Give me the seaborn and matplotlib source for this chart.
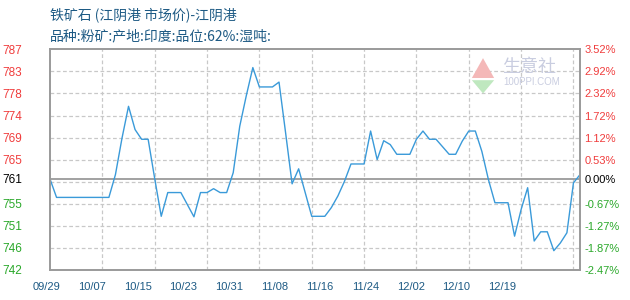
import numpy as np
import pandas as pd
import matplotlib
matplotlib.use("Agg")
import matplotlib.pyplot as plt
import matplotlib.transforms as mtransforms
import seaborn as sns

# ---------------- data ----------------
dates = ["09/29", "09/30", "10/08", "10/09", "10/10", "10/11", "10/12", "10/13",
         "10/14", "10/15", "10/16", "10/17", "10/19", "10/21", "10/22", "10/23",
         "10/24", "10/25", "10/26", "10/27", "10/28", "10/29", "10/30", "10/31",
         "11/02", "11/03", "11/04", "11/05", "11/06", "11/08", "11/10", "11/11",
         "11/12", "11/13", "11/14", "11/16", "11/17", "11/18", "11/19", "11/20",
         "11/21", "11/23", "11/24", "11/25", "11/26", "11/27", "11/29", "11/30",
         "12/01", "12/02", "12/03", "12/04", "12/05", "12/06", "12/08", "12/09",
         "12/10", "12/11", "12/12", "12/13", "12/14", "12/15", "12/16", "12/17",
         "12/18", "12/19"]
prices = [760.5, 756.7, 756.7, 761.4, 768.9, 775.5, 770.7, 768.7,
          768.7, 760.6, 752.8, 757.7, 757.7, 752.7, 757.7, 757.7,
          758.5, 757.7, 757.7, 761.8, 771.4, 777.7, 783.5, 779.5,
          779.5, 780.5, 770.1, 759.5, 762.6, 752.8, 752.8, 754.6,
          757.0, 760.0, 763.6, 763.6, 770.4, 764.5, 768.4, 767.6,
          765.6, 765.6, 768.7, 770.4, 768.7, 768.7, 765.6, 765.6,
          768.3, 770.4, 770.4, 766.2, 760.4, 755.6, 755.6, 748.7,
          754.2, 758.7, 747.7, 749.6, 749.6, 745.7, 747.3, 749.4,
          759.7, 761.4]

left_labels = ["787", "783", "778", "774", "769", "765", "761",
               "755", "751", "746", "742"]
right_labels = ["3.52%", "2.92%", "2.32%", "1.72%", "1.12%", "0.53%", "0.00%",
                "-0.67%", "-1.27%", "-1.87%", "-2.47%"]
x_labels = ["09/29", "10/07", "10/15", "10/23", "10/31", "11/08", "11/16",
            "11/24", "12/02", "12/10", "12/19"]

title1 = "铁矿石 (江阴港 市场价)-江阴港"
title2 = "品种:粉矿:产地:印度:品位:62%:湿吨:"

# ---------------- styling ----------------
sns.set_theme(style="white")
plt.rcParams["font.family"] = ["Liberation Sans", "DejaVu Sans"]

LINE = "#3a9ad9"
RED = "#f03c3c"
GREEN = "#2aa82a"
BLUE_TXT = "#1d5a84"
SPINE = "#9a9a9a"
GRID = "#c8c8c8"

df = pd.DataFrame({"date": pd.to_datetime(["2023/" + d for d in dates]),
                   "price": prices})

fig = plt.figure(figsize=(6.3, 3.0), dpi=100)
ax = fig.add_axes([50 / 630, 30 / 300, 530 / 630, 220.7 / 300])

sns.lineplot(data=df, x="date", y="price", ax=ax, color=LINE, linewidth=1.0)

base = prices[0]
top_pct = float(right_labels[0].rstrip("%"))
bot_pct = float(right_labels[-1].rstrip("%"))
ymax = base * (1 + top_pct / 100)
ymin = base * (1 + bot_pct / 100)
ax.set_ylim(ymin, ymax)
ax.set_xlim(df["date"].iloc[0], df["date"].iloc[-1])

# horizontal dashed grid
grid_y = np.linspace(ymax, ymin, 11)
for gy in grid_y[1:-1]:
    ax.axhline(gy, color=GRID, lw=0.9, ls=(0, (3, 2)), zorder=0)
# vertical dashed grid every 8 days
vgrid = pd.date_range(df["date"].iloc[0], periods=11, freq="8D")
for gx in vgrid[1:]:
    ax.axvline(gx, color=GRID, lw=0.9, ls=(0, (3, 2)), zorder=0)
# base line
ax.axhline(base, color=SPINE, lw=1.3, zorder=1)

# y ticks
tick_pos = list(grid_y[:6]) + [base] + list(grid_y[7:])
ax.set_yticks(tick_pos)
ax.set_yticklabels(left_labels)
ax.tick_params(axis="y", length=0, pad=20, labelsize=8.5)
for lab, txt in zip(ax.get_yticklabels(), left_labels):
    v = float(txt)
    lab.set_color("black" if txt == left_labels[6] else (RED if v > base else GREEN))

ax2 = ax.twinx()
ax2.set_ylim(ymin, ymax)
ax2.set_yticks(tick_pos)
ax2.set_yticklabels(right_labels)
ax2.tick_params(axis="y", length=0, pad=3, labelsize=8)
for lab, txt in zip(ax2.get_yticklabels(), right_labels):
    v = float(txt.rstrip("%"))
    lab.set_color("black" if v == 0 else (RED if v > 0 else GREEN))
ax2.grid(False)

# x labels (evenly spaced text as in the original chart)
ax.set_xticks([])
ax.set_xlabel("")
ax.set_ylabel("")
trans = mtransforms.blended_transform_factory(ax.transAxes, fig.transFigure)
for i, t in enumerate(x_labels):
    ax.text(-0.006 + i * 0.0859, 1 - 287 / 300, t, transform=trans,
            ha="center", va="center", fontsize=8, color=BLUE_TXT)

for a in (ax, ax2):
    for s in a.spines.values():
        s.set_color(SPINE)
        s.set_linewidth(1.2)

# watermark
ax.text(0.853, 0.92, "生意社", transform=ax.transAxes, fontsize=13,
        color="#c9cde0", ha="left", va="center",
        family=["Noto Sans CJK SC", "DejaVu Sans"], zorder=0)
ax.text(0.855, 0.85, "100PPI.COM", transform=ax.transAxes, fontsize=7,
        color="#c9cde0", ha="left", va="center", zorder=0)
ax.fill([0.796, 0.838, 0.817], [0.87, 0.87, 0.96], transform=ax.transAxes,
        color="#f4b8b8", lw=0, zorder=0)
ax.fill([0.796, 0.838, 0.817], [0.86, 0.86, 0.80], transform=ax.transAxes,
        color="#bfe8bf", lw=0, zorder=0)

# titles
cjk = ["Noto Sans CJK SC", "DejaVu Sans"]
fig.text(50 / 630, 1 - 15 / 300, title1, fontsize=10, color=BLUE_TXT,
         ha="left", va="center", family=cjk)
fig.text(50 / 630, 1 - 36 / 300, title2, fontsize=10, color=BLUE_TXT,
         ha="left", va="center", family=cjk)

fig.savefig("out.png", dpi=100)
